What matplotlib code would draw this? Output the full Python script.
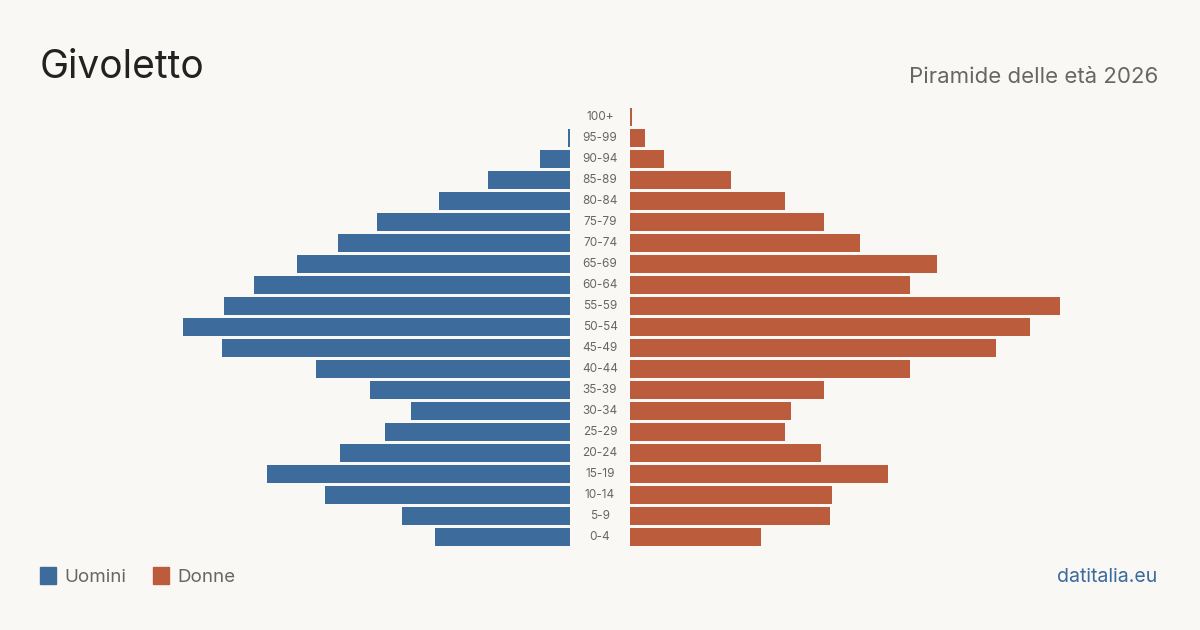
import matplotlib.pyplot as plt
from matplotlib.patches import Rectangle

plt.rcParams['font.family'] = ['Inter', 'DejaVu Sans']

eta = ['0-4', '5-9', '10-14', '15-19', '20-24', '25-29', '30-34', '35-39',
       '40-44', '45-49', '50-54', '55-59', '60-64', '65-69', '70-74', '75-79',
       '80-84', '85-89', '90-94', '95-99', '100+']
uomini = [63, 78, 114, 141, 107, 86, 74, 93, 118, 162, 180, 161,
          147, 127, 108, 90, 61, 38, 14, 1, 0]
donne = [61, 93, 94, 120, 89, 72, 75, 90, 130, 170, 186, 200,
         130, 143, 107, 90, 72, 47, 16, 7, 1]

bg = '#f9f8f4'
blu = '#3d6b9c'
rosso = '#bb5d3c'
grigio = '#666666'

W, H = 1200, 630
fig = plt.figure(figsize=(12, 6.3), dpi=100, facecolor=bg)

# pixels per person ~2.15, axes 500 px wide on each side
w_px = 500
xmax = w_px / 2.15
bot = (H - 547.5) / H
hgt = 441 / H

axL = fig.add_axes([(570 - w_px) / W, bot, w_px / W, hgt])
axR = fig.add_axes([630 / W, bot, w_px / W, hgt])

y = list(range(len(eta)))
axL.barh(y, uomini, height=0.81, color=blu)
axR.barh(y, donne, height=0.81, color=rosso)
axL.set_xlim(xmax, 0)
axR.set_xlim(0, xmax)
for ax in (axL, axR):
    ax.set_ylim(-0.5, len(eta) - 0.5)
    ax.axis('off')
    ax.patch.set_alpha(0)

# age labels in the middle gap
for i, lab in enumerate(eta):
    yy = bot + hgt * (i + 0.5) / len(eta)
    fig.text(600 / W, yy, lab, ha='center', va='center', fontsize=8.5, color=grigio)

fig.text(40 / W, 1 - 68 / H, 'Givoletto', fontsize=28, color='#222222', va='center')
fig.text(1158 / W, 1 - 77 / H, 'Piramide delle età 2026', fontsize=16, color=grigio,
         ha='right', va='center')

# legend
fig.add_artist(Rectangle((40 / W, 1 - 584 / H), 16 / W, 17 / H, color=blu,
                         transform=fig.transFigure))
fig.text(64 / W, 1 - 577 / H, 'Uomini', fontsize=13.5, color=grigio, va='center')
fig.add_artist(Rectangle((153 / W, 1 - 584 / H), 16 / W, 17 / H, color=rosso,
                         transform=fig.transFigure))
fig.text(177 / W, 1 - 577 / H, 'Donne', fontsize=13.5, color=grigio, va='center')

fig.text(1157 / W, 1 - 577 / H, 'datitalia.eu', fontsize=14, color='#3a6a9e',
         ha='right', va='center')

fig.savefig('out.png', dpi=100, facecolor=bg)
